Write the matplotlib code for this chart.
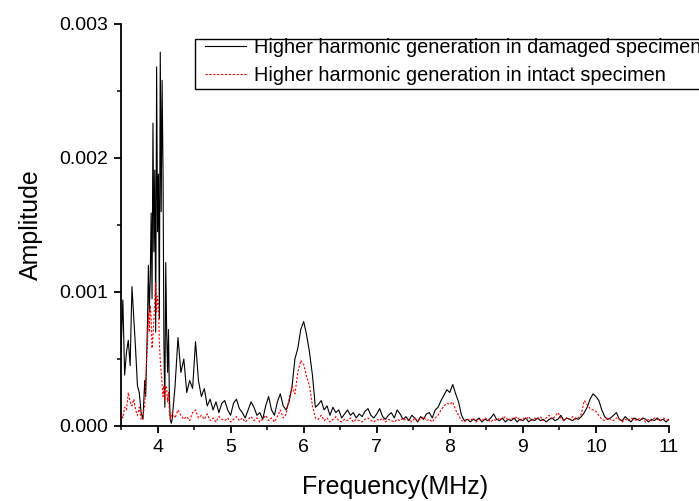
import numpy as np
import matplotlib
matplotlib.use('Agg')
import matplotlib.pyplot as plt
from matplotlib.patches import Rectangle
from matplotlib.ticker import MultipleLocator, FormatStrFormatter

plt.rcParams['font.family'] = ['Liberation Sans', 'DejaVu Sans']

# frequency grid (MHz): coarse start, fine around the 4 MHz peak, coarse tail
freq_a = np.linspace(3.5, 3.775, 12)
freq_b = np.linspace(3.8, 4.1875, 32)
freq_c = np.linspace(4.2, 11.0, 171)

# amplitudes in units of 1e-3
damaged_a = [0.55, 0.94, 0.38, 0.55, 0.64, 0.45, 1.04, 0.80, 0.57, 0.30, 0.25, 0.10]
intact_a = [0.10, 0.06, 0.14, 0.12, 0.25, 0.18, 0.15, 0.20, 0.12, 0.08, 0.14, 0.05]

damaged_b = [0.05, 0.20, 0.34, 0.22, 0.50, 0.78, 1.20, 0.85, 1.10, 1.59, 0.95, 2.26,
             1.30, 1.91, 0.70, 2.68, 1.45, 1.88, 0.80, 2.79, 1.60, 2.58, 1.91, 0.60,
             0.14, 1.22, 0.70, 0.40, 0.72, 0.20, 0.05, 0.02]
intact_b = [0.05, 0.12, 0.15, 0.30, 0.49, 0.62, 0.85, 0.70, 0.90, 0.80, 0.58, 0.67,
            0.80, 0.92, 1.07, 0.85, 0.97, 0.90, 0.62, 0.49, 0.40, 0.30, 0.22, 0.30,
            0.20, 0.30, 0.28, 0.18, 0.25, 0.10, 0.05, 0.08]

damaged_c = [
    0.05, 0.30, 0.66, 0.40, 0.50, 0.25, 0.34, 0.28, 0.63, 0.34,
    0.22, 0.28, 0.15, 0.20, 0.12, 0.18, 0.10, 0.17, 0.19, 0.12,
    0.08, 0.17, 0.20, 0.13, 0.10, 0.06, 0.12, 0.18, 0.14, 0.08,
    0.10, 0.05, 0.15, 0.22, 0.12, 0.08, 0.18, 0.24, 0.15, 0.12,
    0.18, 0.29, 0.50, 0.58, 0.72, 0.78, 0.68, 0.55, 0.38, 0.14,
    0.16, 0.19, 0.12, 0.15, 0.08, 0.14, 0.10, 0.12, 0.06, 0.09,
    0.12, 0.08, 0.10, 0.06, 0.09, 0.07, 0.11, 0.13, 0.08, 0.06,
    0.09, 0.13, 0.07, 0.05, 0.08, 0.10, 0.06, 0.12, 0.09, 0.05,
    0.07, 0.04, 0.08, 0.06, 0.03, 0.07, 0.05, 0.09, 0.10, 0.06,
    0.12, 0.14, 0.19, 0.23, 0.27, 0.25, 0.31, 0.24, 0.18, 0.08,
    0.04, 0.05, 0.03, 0.05, 0.04, 0.06, 0.03, 0.05, 0.04, 0.06,
    0.09, 0.05, 0.04, 0.06, 0.03, 0.05, 0.04, 0.06, 0.03, 0.05,
    0.04, 0.06, 0.03, 0.05, 0.04, 0.06, 0.04, 0.05, 0.03, 0.05,
    0.06, 0.04, 0.05, 0.08, 0.04, 0.06, 0.05, 0.04, 0.06, 0.05,
    0.07, 0.10, 0.14, 0.20, 0.24, 0.22, 0.19, 0.12, 0.07, 0.05,
    0.06, 0.08, 0.10, 0.05, 0.04, 0.07, 0.05, 0.03, 0.06, 0.05,
    0.04, 0.06, 0.05, 0.03, 0.05, 0.04, 0.06, 0.04, 0.05, 0.03, 0.05,
]
intact_c = [
    0.10, 0.06, 0.12, 0.08, 0.05, 0.07, 0.04, 0.10, 0.12, 0.06,
    0.08, 0.05, 0.09, 0.04, 0.06, 0.03, 0.07, 0.05, 0.04, 0.06,
    0.03, 0.05, 0.07, 0.04, 0.06, 0.03, 0.05, 0.07, 0.04, 0.06,
    0.03, 0.05, 0.08, 0.04, 0.06, 0.03, 0.07, 0.12, 0.06, 0.09,
    0.20, 0.30, 0.24, 0.40, 0.49, 0.46, 0.37, 0.30, 0.15, 0.06,
    0.05, 0.08, 0.04, 0.06, 0.03, 0.05, 0.07, 0.04, 0.03, 0.05,
    0.04, 0.06, 0.03, 0.05, 0.04, 0.03, 0.05, 0.06, 0.04, 0.03,
    0.05, 0.04, 0.06, 0.03, 0.05, 0.04, 0.03, 0.05, 0.04, 0.06,
    0.04, 0.05, 0.03, 0.06, 0.04, 0.05, 0.07, 0.04, 0.05, 0.03,
    0.06, 0.08, 0.12, 0.15, 0.17, 0.16, 0.18, 0.12, 0.08, 0.04,
    0.03, 0.05, 0.04, 0.06, 0.03, 0.05, 0.04, 0.06, 0.05, 0.03,
    0.05, 0.04, 0.06, 0.05, 0.07, 0.04, 0.06, 0.05, 0.07, 0.04,
    0.06, 0.05, 0.07, 0.04, 0.06, 0.05, 0.07, 0.04, 0.06, 0.08,
    0.05, 0.07, 0.10, 0.06, 0.04, 0.06, 0.05, 0.07, 0.05, 0.06,
    0.09, 0.19, 0.16, 0.13, 0.12, 0.11, 0.08, 0.05, 0.04, 0.06,
    0.05, 0.04, 0.06, 0.05, 0.03, 0.05, 0.04, 0.06, 0.05, 0.04,
    0.06, 0.05, 0.03, 0.05, 0.04, 0.06, 0.05, 0.04, 0.06, 0.05, 0.04,
]

freq = np.concatenate([freq_a, freq_b, freq_c])
damaged = np.array(damaged_a + damaged_b + damaged_c) * 1e-3
intact = np.array(intact_a + intact_b + intact_c) * 1e-3

fig = plt.figure(figsize=(6.99, 5.01), dpi=100)
ax = fig.add_axes([121 / 699, 75 / 501, 548 / 699, 402 / 501])

ax.plot(freq, damaged, color='black', linewidth=0.8,
        label='Higher harmonic generation in damaged specimen')
ax.plot(freq, intact, color='red', linewidth=0.8, linestyle=(0, (2, 1.5)),
        label='Higher harmonic generation in intact specimen')

ax.set_xlim(3.5, 11)
ax.set_ylim(0, 0.003)
ax.xaxis.set_major_locator(MultipleLocator(1))
ax.xaxis.set_minor_locator(MultipleLocator(0.5))
ax.yaxis.set_major_locator(MultipleLocator(0.001))
ax.yaxis.set_minor_locator(MultipleLocator(0.0005))
ax.yaxis.set_major_formatter(FormatStrFormatter('%.3f'))

for side in ['top', 'right']:
    ax.spines[side].set_visible(False)
for side in ['left', 'bottom']:
    ax.spines[side].set_linewidth(1.3)
ax.tick_params(which='major', direction='out', length=5, width=1.3, labelsize=14, pad=4)
ax.tick_params(which='minor', direction='out', length=3, width=1.1)

ax.set_xlabel('Frequency(MHz)', fontsize=18, labelpad=14)
ax.set_ylabel('Amplitude', fontsize=18, labelpad=12)

# legend without frame, plus a plain box that runs off the right edge
leg = ax.legend(loc='upper left', bbox_to_anchor=(205 / 699, 1 - 38 / 501),
                bbox_transform=fig.transFigure, fontsize=14.3, frameon=False,
                borderaxespad=0, borderpad=0, handlelength=2.05,
                handletextpad=0.42, labelspacing=0.45)
fig.patches.append(Rectangle((195 / 699, 1 - 89 / 501), 600 / 699, 50 / 501,
                             transform=fig.transFigure, fill=False,
                             edgecolor='black', linewidth=1.0))

plt.savefig('out.png', dpi=100)
